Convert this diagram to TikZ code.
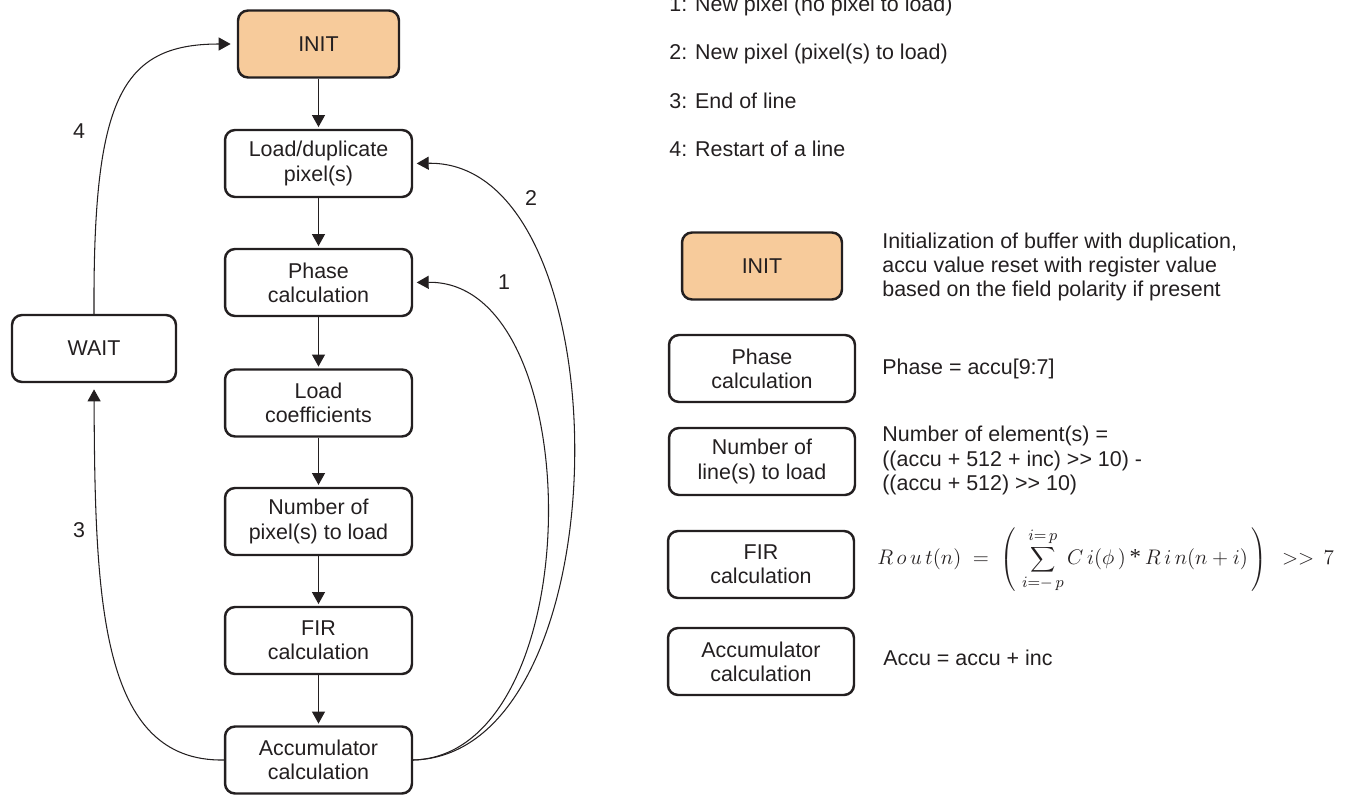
\documentclass[tikz,border=0pt]{standalone}
\usepackage{fontspec}
\setmainfont{Liberation Sans}
\newfontfamily\tmsf{Liberation Serif}
\usetikzlibrary{arrows.meta}
\definecolor{initfill}{RGB}{247,203,155}
\definecolor{ink}{RGB}{35,31,32}
\newcommand{\dgfont}{\fontsize{12.2}{13.8}\selectfont}
\begin{document}
\begin{tikzpicture}[x=0.02cm,y=-0.02cm,
  box/.style={draw=ink, line width=1.4pt, rounded corners=0.2cm,
    minimum width=3.74cm, minimum height=1.34cm, align=center,
    inner sep=0pt, font=\dgfont, text=ink},
  initbox/.style={box, fill=initfill, minimum width=3.22cm},
  txt/.style={font=\dgfont, text=ink, inner sep=0pt, align=left},
  conn/.style={draw=ink, line width=0.6pt, -{Triangle[length=6.8pt,width=7.4pt]}},
  lbl/.style={font=\dgfont, text=ink, inner sep=0pt}]
\useasboundingbox (0,0) rectangle (1350,795);
% main flow
\node[initbox] (init) at (318.5,44) {INIT};
\node[box] (load) at (318.5,163.5) {Load/duplicate\\pixel(s)};
\node[box] (phase) at (318.5,282.5) {Phase\\calculation};
\node[box] (coef) at (318.5,403) {Load\\coefficients};
\node[box] (num) at (318.5,521.5) {Number of\\pixel(s) to load};
\node[box] (fir) at (318.5,640.5) {FIR\\calculation};
\node[box] (acc) at (318.5,760) {Accumulator\\calculation};
\node[box, minimum width=3.28cm] (wait) at (94,348.5) {WAIT};
% straight arrows
\draw[conn, shorten >=1pt] (init) -- (load);
\draw[conn, shorten >=1pt] (load) -- (phase);
\draw[conn, shorten >=1pt] (phase) -- (coef);
\draw[conn, shorten >=1pt] (coef) -- (num);
\draw[conn, shorten >=1pt] (num) -- (fir);
\draw[conn, shorten >=1pt] (fir) -- (acc);
% curved arrows
\draw[conn, shorten >=2pt] (acc.east) .. controls (626,755) and (626,160) .. (load.east);
\draw[conn, shorten >=2pt] (acc.east) .. controls (591,755) and (591,280) .. (phase.east);
\draw[conn, shorten >=3.5pt] (acc.west) .. controls (100,762) and (95,600) .. (wait.south);
\draw[conn, shorten >=3.5pt] (wait.north) .. controls (93,100) and (120,44) .. (init.west);
\node[lbl] (l1) at (504,282) {1};
\node[lbl] (l2) at (531,198) {2};
\node[lbl] (l3) at (79,530) {3};
\node[lbl] (l4) at (79,131) {4};
% key
\node[txt, anchor=base west] (k1) at (669,11) {1: New pixel (no pixel to load)};
\node[txt, anchor=base west] (k2) at (669,59.5) {2: New pixel (pixel(s) to load)};
\node[txt, anchor=base west] (k3) at (669,108) {3: End of line};
\node[txt, anchor=base west] (k4) at (669,156) {4: Restart of a line};
% legend
\node[initbox, minimum width=3.2cm] (linit) at (762,266) {INIT};
\node[box, minimum width=3.72cm] (lphase) at (762,368.5) {Phase\\calculation};
\node[box, minimum width=3.72cm] (lnum) at (762,461.5) {Number of\\line(s) to load};
\node[box, minimum width=3.72cm] (lfir) at (761,564.5) {FIR\\calculation};
\node[box, minimum width=3.72cm] (lacc) at (761,661.5) {Accumulator\\calculation};
\node[txt, anchor=west] (tinit) at (882,267) {Initialization of buffer with duplication,\\accu value reset with register value\\based on the field polarity if present};
\node[txt, anchor=west] (tphase) at (882,369) {Phase = accu[9:7]};
\node[txt, anchor=west] (tnum) at (882,460.5) {Number of element(s) =\\((accu + 512 + inc) >{}> 10) -\\((accu + 512) >{}> 10)};
\node[txt, anchor=west, font=\fontsize{13}{15}\selectfont] (tfir) at (877,560) {$\displaystyle R\,o\,u\,t(n)\;=\;\left(\;\sum_{i=-\,p}^{i=\,p} C\,i(\phi\,)\mbox{\,\tmsf *\,}R\,i\,n(n+i)\,\right)\;\; {>}{>}\;\, 7$};
\node[txt, anchor=west] (tacc) at (883,658) {Accu = accu + inc};
\end{tikzpicture}
\end{document}
